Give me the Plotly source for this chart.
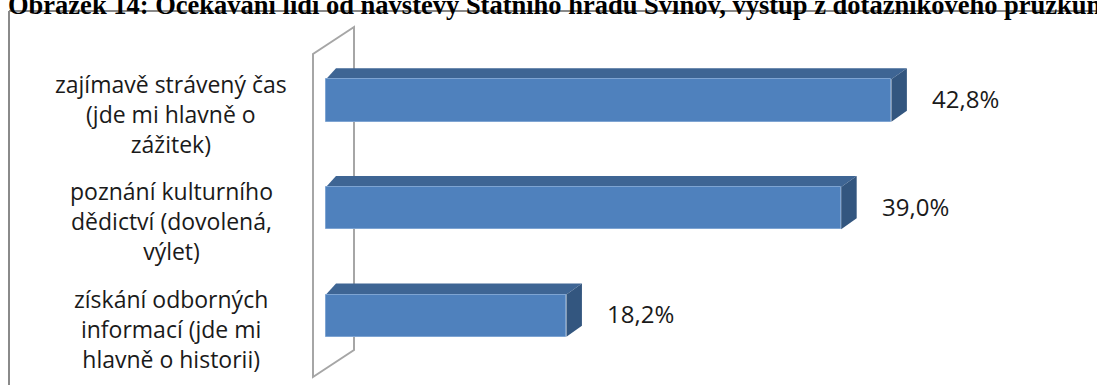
import plotly.graph_objects as go

# ---------------- data ----------------
categories = [
    "zajímavě strávený čas<br>(jde mi hlavně o<br>zážitek)",
    "poznání kulturního<br>dědictví (dovolená,<br>výlet)",
    "získání odborných<br>informací (jde mi<br>hlavně o historii)",
]
values = [42.8, 39.0, 18.2]
value_labels = ["42,8%", "39,0%", "18,2%"]
title_text = ("Obrázek 14: Očekávání lidí od návštěvy Státního hradu Svinov, "
              "výstup z dotazníkového průzkumu")

# ---------------- geometry / style ----------------
W, H = 1097, 385
px_per_unit = 13.21          # horizontal scale
x0_px = 326                  # pixel of value 0
xmin = -x0_px / px_per_unit
xmax = xmin + W / px_per_unit
row_px = 107.6
first_center_px = 100.5
ytop = -first_center_px / row_px
ybot = ytop + H / row_px
bar_w = 42.3 / row_px

FRONT = "#4F81BD"
TOP = "#3E6594"
SIDE = "#33567F"

ypos = list(range(len(values)))

def px2x(px):
    return xmin + px / px_per_unit

def px2y(py):
    return ytop + py / row_px

fig = go.Figure()
fig.add_trace(go.Bar(
    x=values, y=ypos, orientation="h", width=bar_w,
    marker=dict(color=FRONT, line=dict(color="#7EA4D2", width=1)),
    hoverinfo="skip", showlegend=False,
))

shapes = []
# frame border
shapes.append(dict(type="line", xref="paper", yref="paper",
                   x0=9 / W, x1=1.02, y0=1 - 11 / H, y1=1 - 11 / H,
                   line=dict(color="#8A8A8A", width=2), layer="below"))
shapes.append(dict(type="line", xref="paper", yref="paper",
                   x0=9 / W, x1=9 / W, y0=1 - 11 / H, y1=-0.02,
                   line=dict(color="#8A8A8A", width=2), layer="below"))
# 3D side wall
wf, wb = px2x(313), px2x(354)
wall_path = (f"M {wf},{px2y(377)} L {wf},{px2y(54)} L {wb},{px2y(27)} "
             f"L {wb},{px2y(350)} Z")
shapes.append(dict(type="path", xref="x", yref="y", path=wall_path,
                   line=dict(color="#A6A6A6", width=2), fillcolor="rgba(0,0,0,0)",
                   layer="below"))

# 3D faces of bars
dxr = 15.5 / px_per_unit
dxl = 10 / px_per_unit
dy = 11 / row_px
for v, y in zip(values, ypos):
    yt = y - bar_w / 2
    yb = y + bar_w / 2
    top = (f"M 0,{yt} L {v},{yt} L {v + dxr},{yt - dy} L {dxl},{yt - dy} Z")
    side = (f"M {v},{yt} L {v + dxr},{yt - dy} L {v + dxr},{yb - dy} L {v},{yb} Z")
    shapes.append(dict(type="path", xref="x", yref="y", path=top,
                       fillcolor=TOP, line=dict(width=0), layer="below"))
    shapes.append(dict(type="path", xref="x", yref="y", path=side,
                       fillcolor=SIDE, line=dict(width=0), layer="below"))

annotations = []
for cat, y in zip(categories, ypos):
    annotations.append(dict(x=px2x(171), y=y, xref="x", yref="y", text=cat,
                            showarrow=False, xanchor="center", yanchor="middle",
                            align="center", yshift=-13,
                            font=dict(family="Open Sans", size=23, color="#1A1A1A")))
for v, lab, y in zip(values, value_labels, ypos):
    annotations.append(dict(x=v, y=y, xref="x", yref="y", text=lab,
                            showarrow=False, xanchor="left", yanchor="middle",
                            xshift=39, yshift=2,
                            font=dict(family="Open Sans", size=24, color="#1A1A1A")))
annotations.append(dict(x=6 / W, y=1 - 22.5 / H, xref="paper", yref="paper",
                        text="<b>" + title_text + "</b>", showarrow=False,
                        xanchor="left", yanchor="bottom",
                        font=dict(family="Liberation Serif", size=26.5, color="#000000")))

fig.update_layout(
    width=W, height=H,
    margin=dict(l=0, r=0, t=0, b=0),
    paper_bgcolor="white", plot_bgcolor="white",
    xaxis=dict(range=[xmin, xmax], visible=False, fixedrange=True),
    yaxis=dict(range=[ybot, ytop], visible=False, fixedrange=True),
    shapes=shapes, annotations=annotations,
    bargap=0,
)

fig.write_html("out.html", config={"displayModeBar": False},
               post_script="document.body.style.margin='0';document.body.style.overflow='hidden';")
